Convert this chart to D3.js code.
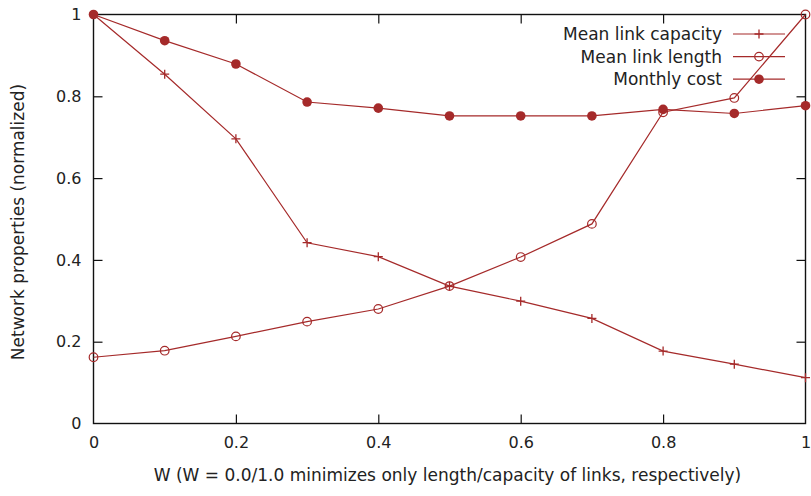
<!DOCTYPE html>
<html>
<head>
<meta charset="utf-8">
<script src="https://cdn.jsdelivr.net/npm/d3@7"></script>
<style>
  body { margin: 0; background: #fff; }
  text { font-family: "DejaVu Sans", sans-serif; fill: #222; }
</style>
</head>
<body>
<script>
// data
const wValues = [0, 0.1, 0.2, 0.3, 0.4, 0.5, 0.6, 0.7, 0.8, 0.9, 1.0];
const capacity = [1.0, 0.854, 0.696, 0.442, 0.408, 0.336, 0.299, 0.257, 0.177, 0.145, 0.112];
const linkLength = [0.162, 0.178, 0.213, 0.249, 0.280, 0.336, 0.407, 0.488, 0.761, 0.796, 1.0];
const monthlyCost = [1.0, 0.936, 0.879, 0.786, 0.771, 0.752, 0.752, 0.752, 0.768, 0.758, 0.777];
const xTicks = [0, 0.2, 0.4, 0.6, 0.8, 1];
const yTicks = [0, 0.2, 0.4, 0.6, 0.8, 1];

const series = [
  {name: "Mean link capacity", values: capacity, mark: "plus"},
  {name: "Mean link length", values: linkLength, mark: "circle"},
  {name: "Monthly cost", values: monthlyCost, mark: "dot"}
];

const color = "#a52a2a";
const W = 811, H = 496;
const margin = {top: 14.5, left: 93.5, right: 5.5, bottom: 72.5};
const width = W - margin.left - margin.right;
const height = H - margin.top - margin.bottom;

const svg = d3.select("body").append("svg")
  .attr("width", W).attr("height", H);

const g = svg.append("g")
  .attr("transform", "translate(" + margin.left + "," + margin.top + ")");

const x = d3.scaleLinear().domain([0, 1]).range([0, width]);
const y = d3.scaleLinear().domain([0, 1]).range([height, 0]);

const fmt = d => d === 0 ? "0" : d === 1 ? "1" : d3.format(".1f")(d);
const tickLen = 9;

// bottom and top axes, ticks pointing inward
const xBottom = g.append("g").attr("transform", "translate(0," + height + ")")
  .call(d3.axisBottom(x).tickValues(xTicks).tickFormat(fmt).tickSizeInner(-tickLen).tickSizeOuter(0).tickPadding(13));
const xTop = g.append("g")
  .call(d3.axisTop(x).tickValues(xTicks).tickFormat("").tickSizeInner(-tickLen).tickSizeOuter(0));
const yLeft = g.append("g")
  .call(d3.axisLeft(y).tickValues(yTicks).tickFormat(fmt).tickSizeInner(-tickLen).tickSizeOuter(0).tickPadding(12));
const yRight = g.append("g").attr("transform", "translate(" + width + ",0)")
  .call(d3.axisRight(y).tickValues(yTicks).tickFormat("").tickSizeInner(-tickLen).tickSizeOuter(0));

[xBottom, xTop, yLeft, yRight].forEach(a => {
  a.select(".domain").remove();
  a.selectAll(".tick line").attr("stroke", "#111").attr("stroke-width", 1.2);
  a.selectAll(".tick text").attr("font-size", 16).attr("fill", "#222")
    .attr("font-family", "DejaVu Sans, sans-serif");
});
// no tick marks drawn at the corners
[xBottom, xTop].forEach(a => a.selectAll(".tick line").filter(d => d === 0 || d === 1).remove());
[yLeft, yRight].forEach(a => a.selectAll(".tick line").filter(d => d === 0 || d === 1).remove());

// border
g.append("rect").attr("width", width).attr("height", height)
  .attr("fill", "none").attr("stroke", "#111").attr("stroke-width", 1.4);

// axis titles
svg.append("text")
  .attr("x", margin.left + width / 2 - 2).attr("y", 481)
  .attr("text-anchor", "middle").attr("font-size", 17)
  .text("W (W = 0.0/1.0 minimizes only length/capacity of links, respectively)");
svg.append("text")
  .attr("transform", "translate(24," + (margin.top + height / 2 + 3) + ") rotate(-90)")
  .attr("text-anchor", "middle").attr("font-size", 17)
  .text("Network properties (normalized)");

function drawMark(sel, mark) {
  if (mark === "plus") {
    sel.append("path").attr("d", "M-4.5,0H4.5M0,-4.5V4.5")
      .attr("stroke", color).attr("stroke-width", 1.3).attr("fill", "none");
  } else if (mark === "circle") {
    sel.append("circle").attr("r", 4.3)
      .attr("stroke", color).attr("stroke-width", 1.2).attr("fill", "none");
  } else {
    sel.append("circle").attr("r", 4.8).attr("fill", color);
  }
}

const line = d3.line().x((d, i) => x(wValues[i])).y(d => y(d));

series.forEach(s => {
  g.append("path").datum(s.values)
    .attr("d", line).attr("fill", "none")
    .attr("stroke", color).attr("stroke-width", 1.2);
  g.selectAll(null).data(s.values).enter().append("g")
    .attr("transform", (d, i) => "translate(" + x(wValues[i]) + "," + y(d) + ")")
    .each(function() { drawMark(d3.select(this), s.mark); });
});

// legend
const legend = svg.append("g");
series.forEach((s, i) => {
  const ly = 34 + i * 22.6;
  legend.append("text").attr("x", 722).attr("y", ly).attr("dy", "0.35em")
    .attr("text-anchor", "end").attr("font-size", 17).text(s.name);
  legend.append("line").attr("x1", 733).attr("x2", 785).attr("y1", ly).attr("y2", ly)
    .attr("stroke", color).attr("stroke-width", 1.2);
  drawMark(legend.append("g").attr("transform", "translate(759," + ly + ")"), s.mark);
});
</script>
</body>
</html>
